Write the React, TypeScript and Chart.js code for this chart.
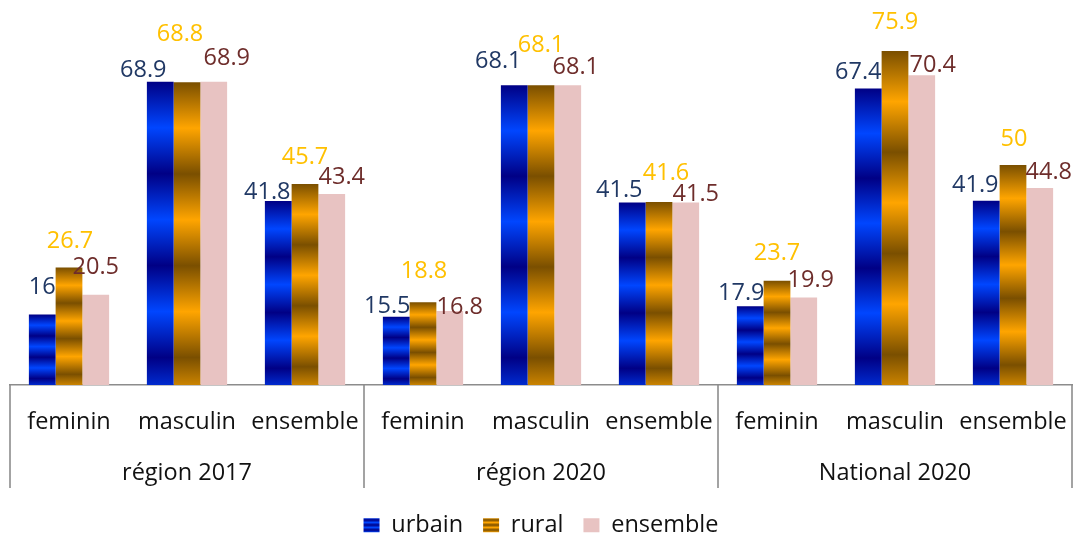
import React, { useEffect, useRef } from "react";
import { Chart, registerables } from "chart.js";

Chart.register(...registerables);

const categories = [
  "feminin", "masculin", "ensemble",
  "feminin", "masculin", "ensemble",
  "feminin", "masculin", "ensemble",
];
const groups = ["région 2017", "région 2020", "National 2020"];
const seriesNames = ["urbain", "rural", "ensemble"];
const urbain = [16, 68.9, 41.8, 15.5, 68.1, 41.5, 17.9, 67.4, 41.9];
const rural = [26.7, 68.8, 45.7, 18.8, 68.1, 41.6, 23.7, 75.9, 50];
const ensemble = [20.5, 68.9, 43.4, 16.8, 68.1, 41.5, 19.9, 70.4, 44.8];

// label nudges (style only): [dx, distance above bar top to label centre]
const nudgeUrbain = [[0, 27], [-17, 12], [-11, 9], [-9, 10], [-16, 24], [-13, 12], [-9, 13], [-10, 16], [-11, 15]];
const nudgeRural = [[1, 26], [-7, 48], [0, 27], [1, 31], [0, 40], [7, 29], [0, 27], [0, 29], [1, 26]];
const nudgeEnsemble = [[0, 27], [13, 24], [10, 17], [10, 4], [8, 18], [10, 8], [7, 17], [11, 10], [9, 16]];

const FONT = "'Open Sans', sans-serif";
const FONT_SIZE = 23.5;
const BLUE_DARK = "#000085";
const BLUE_BRIGHT = "#0046ff";
const ORANGE_DARK = "#7a4f00";
const ORANGE_BRIGHT = "#ffa500";
const PINK = "#e8c3c2";
const LABEL_COLORS = ["#203864", "#ffc000", "#6e2d2b"];

function mix(a: string, b: string, t: number) {
  const pa = [1, 3, 5].map((i) => parseInt(a.slice(i, i + 2), 16));
  const pb = [1, 3, 5].map((i) => parseInt(b.slice(i, i + 2), 16));
  const c = pa.map((v, i) => Math.round(v + (pb[i] - v) * t));
  return `rgb(${c[0]},${c[1]},${c[2]})`;
}

function stripeFill(ctx: any, dark: string, bright: string) {
  if (ctx.type !== "data") return bright;
  const chart = ctx.chart;
  const y = chart.scales && chart.scales.y;
  if (!y || !chart.chartArea) return bright;
  const v = ctx.parsed ? ctx.parsed.y : ctx.raw;
  const top = y.getPixelForValue(v);
  const base = y.getPixelForValue(0);
  if (!isFinite(top) || !isFinite(base) || base - top < 1) return bright;
  const g = chart.ctx.createLinearGradient(0, top, 0, base);
  const n = 6.6;
  for (let k = 0; k <= 6; k++) g.addColorStop(k / n, k % 2 === 0 ? dark : bright);
  g.addColorStop(1, mix(dark, bright, 0.6));
  return g;
}

function makePattern(dark: string, bright: string, solid?: string) {
  const c = document.createElement("canvas");
  c.width = 4;
  c.height = 5;
  const x = c.getContext("2d")!;
  if (solid) {
    x.fillStyle = solid;
    x.fillRect(0, 0, 4, 5);
  } else {
    const g = x.createLinearGradient(0, 0, 0, 5);
    g.addColorStop(0, dark);
    g.addColorStop(0.5, bright);
    g.addColorStop(1, dark);
    x.fillStyle = g;
    x.fillRect(0, 0, 4, 5);
  }
  return x.createPattern(c, "repeat");
}

const labelPlugin = {
  id: "valueLabels",
  afterDatasetsDraw(chart: any) {
    const ctx = chart.ctx;
    const nudges = [nudgeUrbain, nudgeRural, nudgeEnsemble];
    ctx.save();
    ctx.font = `${FONT_SIZE}px ${FONT}`;
    ctx.textAlign = "center";
    ctx.textBaseline = "middle";
    chart.data.datasets.forEach((ds: any, di: number) => {
      const meta = chart.getDatasetMeta(di);
      ctx.fillStyle = LABEL_COLORS[di];
      meta.data.forEach((el: any, i: number) => {
        const nd = nudges[di][i];
        ctx.fillText(String(ds.data[i]), el.x + nd[0], el.y - nd[1]);
      });
    });
    ctx.restore();
  },
};

const groupAxisPlugin = {
  id: "groupAxis",
  afterDraw(chart: any) {
    const ctx = chart.ctx;
    const xs = chart.scales.x;
    const area = chart.chartArea;
    const bottom = 488;
    const bounds = [area.left];
    for (let gi = 1; gi < groups.length; gi++) {
      const i = gi * 3;
      bounds.push((xs.getPixelForTick(i - 1) + xs.getPixelForTick(i)) / 2);
    }
    bounds.push(area.right);
    ctx.save();
    ctx.strokeStyle = "#8c8c8c";
    ctx.lineWidth = 1.6;
    bounds.forEach((bx) => {
      ctx.beginPath();
      ctx.moveTo(bx, area.bottom);
      ctx.lineTo(bx, bottom);
      ctx.stroke();
    });
    ctx.font = `${FONT_SIZE}px ${FONT}`;
    ctx.fillStyle = "#111111";
    ctx.textAlign = "center";
    ctx.textBaseline = "alphabetic";
    groups.forEach((g, gi) => {
      ctx.fillText(g, (bounds[gi] + bounds[gi + 1]) / 2, 480);
    });
    ctx.restore();
  },
};

export default function App() {
  const ref = useRef<HTMLCanvasElement>(null);
  useEffect(() => {
    if (!ref.current) return;
    const legendFills = [
      makePattern(BLUE_DARK, BLUE_BRIGHT),
      makePattern(ORANGE_DARK, ORANGE_BRIGHT),
      makePattern(PINK, PINK, PINK),
    ];
    const chart = new Chart(ref.current, {
      type: "bar",
      data: {
        labels: categories,
        datasets: [
          {
            label: seriesNames[0],
            data: urbain,
            backgroundColor: (c: any) => stripeFill(c, BLUE_DARK, BLUE_BRIGHT),
            borderWidth: 0,
          },
          {
            label: seriesNames[1],
            data: rural,
            backgroundColor: (c: any) => stripeFill(c, ORANGE_DARK, ORANGE_BRIGHT),
            borderWidth: 0,
          },
          {
            label: seriesNames[2],
            data: ensemble,
            backgroundColor: PINK,
            borderWidth: 0,
          },
        ],
      },
      options: {
        responsive: false,
        animation: false,
        layout: { padding: { left: 10, right: 4, top: 33, bottom: -11 } },
        datasets: {
          bar: { categoryPercentage: 0.68, barPercentage: 1 },
        },
        scales: {
          x: {
            grid: { display: false, drawTicks: false },
            border: { display: true, color: "#8c8c8c", width: 1.6 },
            ticks: {
              padding: 23,
              color: "#111111",
              font: { family: FONT, size: FONT_SIZE },
              maxRotation: 0,
              autoSkip: false,
            },
            afterFit: (s: any) => {
              s.height = 108.5;
              s.paddingLeft = 0;
              s.paddingRight = 0;
            },
          },
          y: {
            display: false,
            min: 0,
            max: 80,
          },
        },
        plugins: {
          tooltip: { enabled: false },
          legend: {
            position: "bottom",
            labels: {
              boxWidth: 16,
              boxHeight: 14,
              padding: 20,
              color: "#111111",
              font: { family: FONT, size: FONT_SIZE },
              generateLabels: () =>
                seriesNames.map((name, i) => ({
                  text: name,
                  fillStyle: legendFills[i] as any,
                  strokeStyle: "rgba(0,0,0,0)",
                  lineWidth: 0,
                  hidden: false,
                  datasetIndex: i,
                  fontColor: "#111111",
                })),
            },
          },
        },
      },
      plugins: [labelPlugin, groupAxisPlugin],
    } as any);
    return () => chart.destroy();
  }, []);
  return (
    <div style={{ position: "fixed", left: 0, top: 0, width: 1076, height: 536, background: "#fff" }}>
      <canvas ref={ref} width={1076} height={536} style={{ width: 1076, height: 536, display: "block" }} />
    </div>
  );
}
